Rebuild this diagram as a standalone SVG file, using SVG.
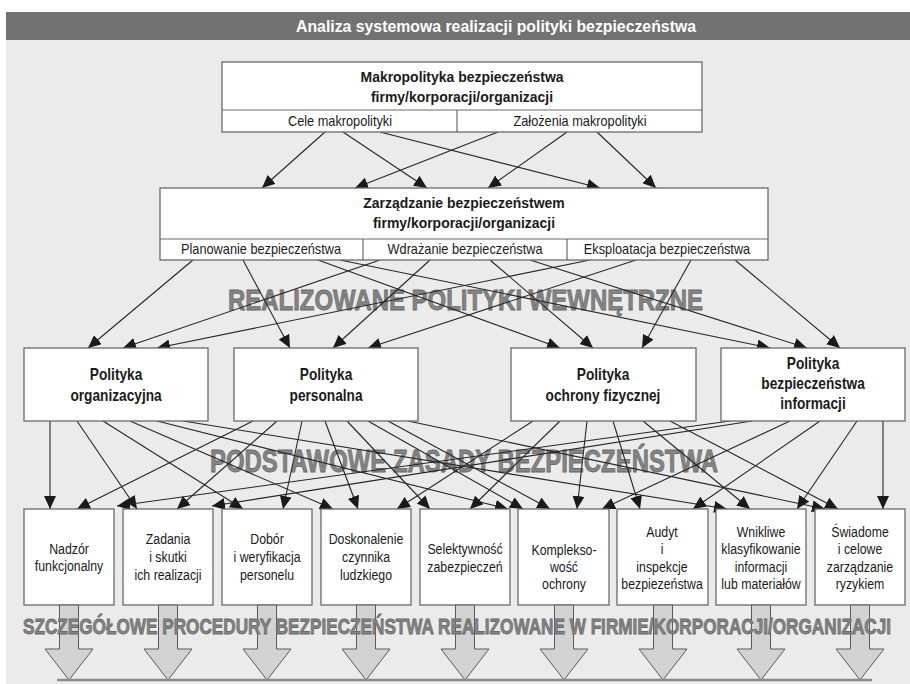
<svg xmlns="http://www.w3.org/2000/svg" width="910" height="684" viewBox="0 0 910 684">
  <style>
    .box { fill: #ffffff; stroke: #6a6a6a; stroke-width: 1.3; }
    .sep { stroke: #6a6a6a; stroke-width: 1.2; fill: none; }
    text { transform-box: fill-box; transform-origin: center; }
    .hb { font-family: "Liberation Sans", Arial, sans-serif; font-weight: bold; font-size: 15.5px; fill: #1a1a1a; text-anchor: middle; transform: scaleX(0.9); }
    .t { font-family: "Liberation Sans", Arial, sans-serif; font-size: 14px; fill: #1a1a1a; text-anchor: middle; transform: scaleX(0.91); }
    .pb { font-family: "Liberation Sans", Arial, sans-serif; font-weight: bold; font-size: 16.5px; fill: #1a1a1a; text-anchor: middle; transform: scaleX(0.83); }
    .bt { font-family: "Liberation Sans", Arial, sans-serif; font-size: 14.5px; fill: #1a1a1a; text-anchor: middle; transform: scaleX(0.85); }
    .band { font-family: "Liberation Sans", Arial, sans-serif; font-weight: bold; fill: #848484; stroke: #6a6a6a; stroke-width: 0.8; }
    .title { font-family: "Liberation Sans", Arial, sans-serif; font-weight: bold; font-size: 17px; fill: #ffffff; }
    .conn line { stroke: #262626; stroke-width: 1.1; marker-end: url(#head); }
    .down { fill: #d2d2d2; stroke: #5a5a5a; stroke-width: 1; }
  </style>
  <defs>
    <marker id="head" markerUnits="userSpaceOnUse" markerWidth="14" markerHeight="12" refX="13" refY="6" orient="auto">
      <path d="M0,0 L13,6 L0,12 z" fill="#1a1a1a"/>
    </marker>
  </defs>

  <!-- backdrop and title bar -->
  <rect x="6" y="40" width="904" height="644" fill="#ebebeb"/>
  <rect x="6" y="12" width="904" height="28" fill="#727272"/>
  <text class="title" x="296" y="32" textLength="400" lengthAdjust="spacingAndGlyphs">Analiza systemowa realizacji polityki bezpieczeństwa</text>

  <!-- band captions -->
  <text class="band" x="228" y="310" font-size="30" textLength="475" lengthAdjust="spacingAndGlyphs">REALIZOWANE POLITYKI WEWNĘTRZNE</text>
  <text class="band" x="210" y="472" font-size="32" textLength="508" lengthAdjust="spacingAndGlyphs">PODSTAWOWE ZASADY BEZPIECZEŃSTWA</text>

  <!-- connectors -->
  <g id="connectors" class="conn">
    <!-- macro policy to security management -->
    <line x1="325" y1="132" x2="262" y2="188"/>
    <line x1="343" y1="132" x2="427" y2="188"/>
    <line x1="380" y1="132" x2="600" y2="188"/>
    <line x1="498" y1="132" x2="355" y2="188"/>
    <line x1="567" y1="132" x2="488" y2="188"/>
    <line x1="597" y1="132" x2="656" y2="188"/>
    <!-- security management to internal policies -->
    <line x1="193" y1="260" x2="88" y2="348"/>
    <line x1="243" y1="260" x2="290" y2="348"/>
    <line x1="318" y1="260" x2="560" y2="348"/>
    <line x1="340" y1="260" x2="770" y2="348"/>
    <line x1="380" y1="260" x2="123" y2="348"/>
    <line x1="430" y1="260" x2="333" y2="348"/>
    <line x1="490" y1="260" x2="593" y2="348"/>
    <line x1="530" y1="260" x2="807" y2="348"/>
    <line x1="590" y1="260" x2="157" y2="348"/>
    <line x1="636" y1="260" x2="368" y2="348"/>
    <line x1="691" y1="260" x2="642" y2="348"/>
    <line x1="735" y1="260" x2="840" y2="348"/>
    <!-- organisational policy -->
    <line x1="50" y1="421" x2="50" y2="509"/>
    <line x1="77" y1="421" x2="137" y2="509"/>
    <line x1="103" y1="421" x2="243" y2="509"/>
    <line x1="130" y1="421" x2="333" y2="509"/>
    <line x1="157" y1="421" x2="508" y2="509"/>
    <line x1="183" y1="421" x2="727" y2="509"/>
    <!-- personnel policy -->
    <line x1="253" y1="421" x2="77" y2="509"/>
    <line x1="277" y1="421" x2="177" y2="509"/>
    <line x1="302" y1="421" x2="283" y2="509"/>
    <line x1="325" y1="421" x2="358" y2="509"/>
    <line x1="347" y1="421" x2="430" y2="509"/>
    <line x1="368" y1="421" x2="523" y2="509"/>
    <line x1="388" y1="421" x2="550" y2="509"/>
    <line x1="408" y1="421" x2="825" y2="509"/>
    <!-- physical protection policy -->
    <line x1="533" y1="421" x2="397" y2="509"/>
    <line x1="560" y1="421" x2="470" y2="509"/>
    <line x1="587" y1="421" x2="577" y2="509"/>
    <line x1="613" y1="421" x2="640" y2="509"/>
    <line x1="643" y1="421" x2="750" y2="509"/>
    <line x1="670" y1="421" x2="838" y2="509"/>
    <!-- information security policy -->
    <line x1="730" y1="421" x2="117" y2="506"/>
    <line x1="752" y1="421" x2="212" y2="506"/>
    <line x1="790" y1="421" x2="602" y2="509"/>
    <line x1="820" y1="421" x2="693" y2="509"/>
    <line x1="857" y1="421" x2="797" y2="509"/>
    <line x1="883" y1="421" x2="883" y2="509"/>
  </g>

  <!-- macro policy -->
  <g id="makropolityka">
    <rect class="box" x="222" y="62" width="480" height="70"/>
    <line class="sep" x1="222" y1="110" x2="702" y2="110"/>
    <line class="sep" x1="457" y1="110" x2="457" y2="132"/>
    <text class="hb" x="462" y="82">Makropolityka bezpieczeństwa</text>
    <text class="hb" x="462" y="102">firmy/korporacji/organizacji</text>
    <text class="t" x="340" y="126">Cele makropolityki</text>
    <text class="t" x="580" y="126">Założenia makropolityki</text>
  </g>

  <!-- security management -->
  <g id="zarzadzanie">
    <rect class="box" x="160" y="188" width="608" height="72"/>
    <line class="sep" x1="160" y1="239" x2="768" y2="239"/>
    <line class="sep" x1="363" y1="239" x2="363" y2="260"/>
    <line class="sep" x1="567" y1="239" x2="567" y2="260"/>
    <text class="hb" x="464" y="208">Zarządzanie bezpieczeństwem</text>
    <text class="hb" x="464" y="228">firmy/korporacji/organizacji</text>
    <text class="t" x="261" y="254">Planowanie bezpieczeństwa</text>
    <text class="t" x="465" y="254">Wdrażanie bezpieczeństwa</text>
    <text class="t" x="667" y="254">Eksploatacja bezpieczeństwa</text>
  </g>

  <!-- internal policies -->
  <g id="p-organizacyjna">
    <rect class="box" x="24" y="348" width="184" height="73"/>
    <text class="pb" x="116" y="380">Polityka</text>
    <text class="pb" x="116" y="401">organizacyjna</text>
  </g>
  <g id="p-personalna">
    <rect class="box" x="234" y="348" width="184" height="73"/>
    <text class="pb" x="326" y="380">Polityka</text>
    <text class="pb" x="326" y="401">personalna</text>
  </g>
  <g id="p-fizyczna">
    <rect class="box" x="511" y="348" width="185" height="73"/>
    <text class="pb" x="603" y="380">Polityka</text>
    <text class="pb" x="603" y="401">ochrony fizycznej</text>
  </g>
  <g id="p-informacji">
    <rect class="box" x="721" y="348" width="184" height="73"/>
    <text class="pb" x="813" y="369">Polityka</text>
    <text class="pb" x="813" y="389">bezpieczeństwa</text>
    <text class="pb" x="813" y="409">informacji</text>
  </g>

  <!-- basic principles -->
  <g id="z1">
    <rect class="box" x="24" y="509" width="90" height="96"/>
    <text class="bt" x="69" y="554">Nadzór</text>
    <text class="bt" x="69" y="571">funkcjonalny</text>
  </g>
  <g id="z2">
    <rect class="box" x="123" y="509" width="90" height="96"/>
    <text class="bt" x="168" y="544">Zadania</text>
    <text class="bt" x="168" y="562">i skutki</text>
    <text class="bt" x="168" y="580">ich realizacji</text>
  </g>
  <g id="z3">
    <rect class="box" x="222" y="509" width="90" height="96"/>
    <text class="bt" x="267" y="544">Dobór</text>
    <text class="bt" x="267" y="562">i weryfikacja</text>
    <text class="bt" x="267" y="580">personelu</text>
  </g>
  <g id="z4">
    <rect class="box" x="321" y="509" width="90" height="96"/>
    <text class="bt" x="366" y="544">Doskonalenie</text>
    <text class="bt" x="366" y="562">czynnika</text>
    <text class="bt" x="366" y="580">ludzkiego</text>
  </g>
  <g id="z5">
    <rect class="box" x="420" y="509" width="90" height="96"/>
    <text class="bt" x="465" y="554">Selektywność</text>
    <text class="bt" x="465" y="572">zabezpieczeń</text>
  </g>
  <g id="z6">
    <rect class="box" x="518" y="509" width="91" height="96"/>
    <text class="bt" x="564" y="555">Komplekso-</text>
    <text class="bt" x="564" y="572">wość</text>
    <text class="bt" x="564" y="589">ochrony</text>
  </g>
  <g id="z7">
    <rect class="box" x="617" y="509" width="91" height="96"/>
    <text class="bt" x="662" y="537">Audyt</text>
    <text class="bt" x="662" y="554">i</text>
    <text class="bt" x="662" y="572">inspekcje</text>
    <text class="bt" x="662" y="589">bezpiezeństwa</text>
  </g>
  <g id="z8">
    <rect class="box" x="716" y="509" width="90" height="96"/>
    <text class="bt" x="761" y="537">Wnikliwe</text>
    <text class="bt" x="761" y="554">klasyfikowanie</text>
    <text class="bt" x="761" y="572">informacji</text>
    <text class="bt" x="761" y="589">lub materiałów</text>
  </g>
  <g id="z9">
    <rect class="box" x="815" y="509" width="90" height="96"/>
    <text class="bt" x="860" y="537">Świadome</text>
    <text class="bt" x="860" y="554">i celowe</text>
    <text class="bt" x="860" y="572">zarządzanie</text>
    <text class="bt" x="860" y="589">ryzykiem</text>
  </g>

  <!-- procedure arrows and base line -->
  <g id="procedury">
    <path class="down" d="M59.5,605 h19 v44 h14.5 l-24,31 l-24,-31 h14.5 z"/>
    <path class="down" d="M158.5,605 h19 v44 h14.5 l-24,31 l-24,-31 h14.5 z"/>
    <path class="down" d="M257.5,605 h19 v44 h14.5 l-24,31 l-24,-31 h14.5 z"/>
    <path class="down" d="M356.5,605 h19 v44 h14.5 l-24,31 l-24,-31 h14.5 z"/>
    <path class="down" d="M455.5,605 h19 v44 h14.5 l-24,31 l-24,-31 h14.5 z"/>
    <path class="down" d="M554.5,605 h19 v44 h14.5 l-24,31 l-24,-31 h14.5 z"/>
    <path class="down" d="M653.5,605 h19 v44 h14.5 l-24,31 l-24,-31 h14.5 z"/>
    <path class="down" d="M751.5,605 h19 v44 h14.5 l-24,31 l-24,-31 h14.5 z"/>
    <path class="down" d="M850.5,605 h19 v44 h14.5 l-24,31 l-24,-31 h14.5 z"/>
    <line x1="57" y1="680" x2="872" y2="680" stroke="#8a8a8a" stroke-width="2.5"/>
  </g>

  <!-- detailed procedures caption, over the arrow shafts -->
  <text class="band" x="23" y="634" font-size="22" textLength="868" lengthAdjust="spacingAndGlyphs">SZCZEGÓŁOWE PROCEDURY BEZPIECZEŃSTWA REALIZOWANE W FIRMIE/KORPORACJI/ORGANIZACJI</text>
</svg>
